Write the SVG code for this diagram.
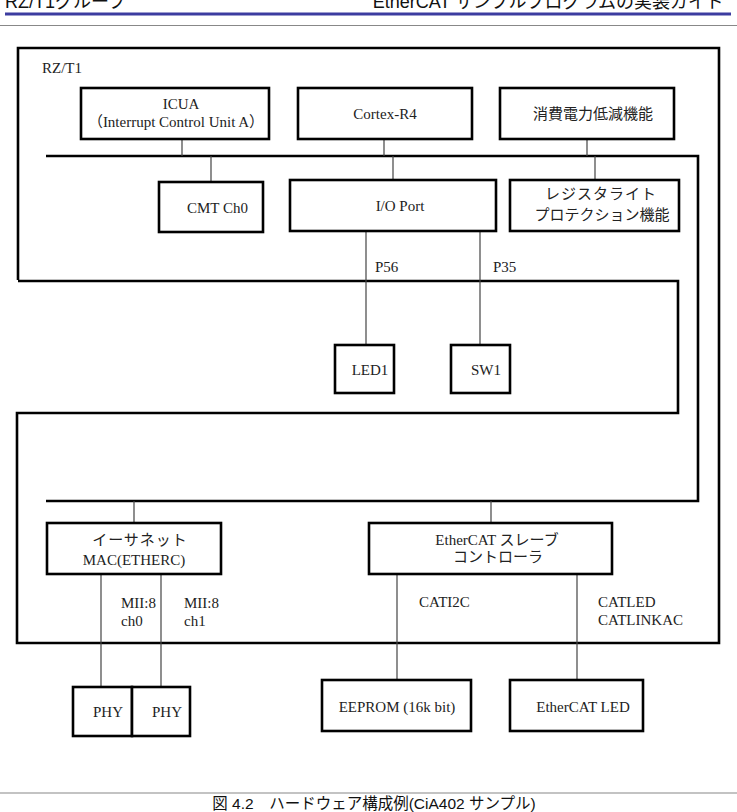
<svg xmlns="http://www.w3.org/2000/svg" width="737" height="812" viewBox="0 0 737 812">
<style>
.box{fill:#fff;stroke:#000;stroke-width:2.6}
.thick{fill:none;stroke:#000;stroke-width:2.6}
.thin{fill:none;stroke:#444;stroke-width:1.2}
.t{font-family:"Liberation Serif","Noto Sans CJK JP",serif;font-size:15px;fill:#222}
.h{font-family:"Liberation Sans","Noto Sans CJK JP",sans-serif;font-size:18px;fill:#111}
.c{font-family:"Liberation Sans","Noto Sans CJK JP",sans-serif;font-size:15.5px;fill:#111}
</style>
<rect width="737" height="812" fill="#fff"/>
<g id="header">
<text class="h" x="5" y="8">RZ/T1グループ</text>
<text class="h" x="724" y="8" text-anchor="end">EtherCAT サンプルプログラムの実装ガイド</text>
<line x1="5" y1="14" x2="731" y2="14" stroke="#3c3ca0" stroke-width="3"/>
<line x1="0" y1="25.5" x2="737" y2="25.5" stroke="#888" stroke-width="1.2"/>
</g>
<g id="rzt1">
<path class="thick" d="M18,280 L18,48 L719,48 L719,643 L17,643 L17,413 L678,413 L678,281 L18,281"/>
<text class="t" x="42" y="73">RZ/T1</text>
</g>
<g id="bus">
<path class="thick" d="M46,156 L698,156 L698,501 L46,501"/>
</g>
<g id="connectors">
<line class="thin" x1="182" y1="139" x2="182" y2="156"/>
<line class="thin" x1="211" y1="156" x2="211" y2="182"/>
<line class="thin" x1="384" y1="139" x2="384" y2="156"/>
<line class="thin" x1="393" y1="156" x2="393" y2="180"/>
<line class="thin" x1="587" y1="139" x2="587" y2="156"/>
<line class="thin" x1="595" y1="156" x2="595" y2="180"/>
<line class="thin" x1="366" y1="231" x2="366" y2="345"/>
<line class="thin" x1="480" y1="231" x2="480" y2="345"/>
<line class="thin" x1="134" y1="501" x2="134" y2="523"/>
<line class="thin" x1="491" y1="501" x2="491" y2="523"/>
<line class="thin" x1="101" y1="574" x2="101" y2="687"/>
<line class="thin" x1="161" y1="574" x2="161" y2="687"/>
<line class="thin" x1="397" y1="574" x2="397" y2="680"/>
<line class="thin" x1="577" y1="574" x2="577" y2="680"/>
<text class="t" x="375" y="272">P56</text>
<text class="t" x="493" y="272">P35</text>
<text class="t" x="121" y="608">MII:8</text>
<text class="t" x="121" y="626">ch0</text>
<text class="t" x="184" y="608">MII:8</text>
<text class="t" x="184" y="626">ch1</text>
<text class="t" x="419" y="607">CATI2C</text>
<text class="t" x="598" y="607">CATLED</text>
<text class="t" x="598" y="625">CATLINKAC</text>
</g>
<g id="icua">
<rect class="box" x="81" y="88" width="188" height="51"/>
<text class="t" x="181" y="109" text-anchor="middle">ICUA</text>
<text class="t" x="176" y="127" text-anchor="middle">（Interrupt Control Unit A）</text>
</g>
<g id="cortex">
<rect class="box" x="298" y="88" width="174" height="51"/>
<text class="t" x="385" y="119" text-anchor="middle">Cortex-R4</text>
</g>
<g id="power">
<rect class="box" x="500" y="88" width="174" height="51"/>
<text class="t" x="593" y="119" text-anchor="middle">消費電力低減機能</text>
</g>
<g id="cmt">
<rect class="box" x="159" y="182" width="104" height="50"/>
<text class="t" x="187" y="213">CMT Ch0</text>
</g>
<g id="ioport">
<rect class="box" x="290" y="180" width="206" height="51"/>
<text class="t" x="400" y="211" text-anchor="middle">I/O Port</text>
</g>
<g id="regprot">
<rect class="box" x="510" y="180" width="169" height="51"/>
<text class="t" x="601" y="199" text-anchor="middle" letter-spacing="1">レジスタライト</text>
<text class="t" x="602" y="220" text-anchor="middle">プロテクション機能</text>
</g>
<g id="led1">
<rect class="box" x="335" y="345" width="59" height="48"/>
<text class="t" x="370" y="375" text-anchor="middle">LED1</text>
</g>
<g id="sw1">
<rect class="box" x="451" y="345" width="59" height="48"/>
<text class="t" x="486" y="375" text-anchor="middle">SW1</text>
</g>
<g id="ethermac">
<rect class="box" x="47" y="523" width="174" height="51"/>
<text class="t" x="140" y="545" text-anchor="middle" letter-spacing="1">イーサネット</text>
<text class="t" x="134" y="565" text-anchor="middle">MAC(ETHERC)</text>
</g>
<g id="ecatslave">
<rect class="box" x="369" y="523" width="243" height="51"/>
<text class="t" x="497" y="545" text-anchor="middle">EtherCAT スレーブ</text>
<text class="t" x="498" y="562" text-anchor="middle">コントローラ</text>
</g>
<g id="phy0">
<rect class="box" x="73" y="687" width="59" height="49"/>
<text class="t" x="108" y="717" text-anchor="middle">PHY</text>
</g>
<g id="phy1">
<rect class="box" x="132" y="687" width="58" height="49"/>
<text class="t" x="167" y="717" text-anchor="middle">PHY</text>
</g>
<g id="eeprom">
<rect class="box" x="322" y="680" width="149" height="51"/>
<text class="t" x="397" y="712" text-anchor="middle">EEPROM (16k bit)</text>
</g>
<g id="ecatled">
<rect class="box" x="510" y="680" width="133" height="51"/>
<text class="t" x="583" y="712" text-anchor="middle">EtherCAT LED</text>
</g>
<g id="footer">
<line x1="0" y1="793" x2="737" y2="793" stroke="#888" stroke-width="1.2"/>
<text class="c" x="374" y="809" text-anchor="middle">図 4.2　ハードウェア構成例(CiA402 サンプル)</text>
</g>
</svg>
